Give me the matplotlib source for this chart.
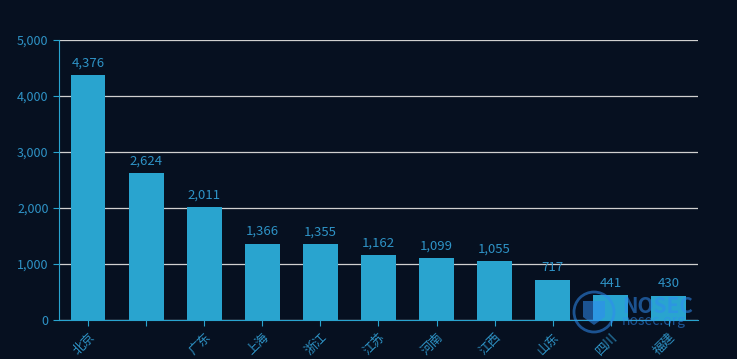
import matplotlib.pyplot as plt
from matplotlib.patches import Circle, Polygon

plt.rcParams['font.family'] = ['Noto Sans CJK SC', 'DejaVu Sans']

provinces = ['北京', '', '广东', '上海', '浙江', '江苏', '河南', '江西', '山东', '四川', '福建']
counts = [4376, 2624, 2011, 1366, 1355, 1162, 1099, 1055, 717, 441, 430]

bg = '#061020'
bar_color = '#29a4cf'
text_color = '#2e93c6'
mark_color = '#2f8cf0'

fig = plt.figure(figsize=(7.37, 3.59), dpi=100, facecolor=bg)
ax = fig.add_axes([0.080, 0.1086, 0.867, 0.78])
ax.set_facecolor(bg)

x = range(len(provinces))
bars = ax.bar(x, counts, width=0.6, color=bar_color, zorder=3)
for xi, v in zip(x, counts):
    ax.text(xi, v + 100, f'{v:,}', ha='center', va='bottom', color=text_color, fontsize=9.5)

ax.set_xlim(-0.5, len(provinces) - 0.5)
ax.set_ylim(0, 5000)
ax.set_yticks(range(0, 5001, 1000))
ax.set_yticklabels([f'{v:,}' for v in range(0, 5001, 1000)])
ax.set_xticks(list(x))
ax.set_xticklabels(provinces, rotation=45, ha='right', rotation_mode='anchor')

ax.yaxis.grid(True, color='#d0d0d0', linewidth=0.9, zorder=0)
for s in ['top', 'right']:
    ax.spines[s].set_visible(False)
for s in ['left', 'bottom']:
    ax.spines[s].set_color(bar_color)
ax.tick_params(axis='both', colors=bar_color, labelcolor=text_color, labelsize=9, length=4)

# watermark (pixel coords, origin bottom-left)
fig.patches.append(Circle((594, 47), 20, transform=None, fill=False,
                          edgecolor=mark_color, linewidth=2, alpha=0.55, zorder=10))
fig.patches.append(Polygon([(583, 58), (605, 58), (605, 42), (594, 34), (583, 42)],
                           closed=True, transform=None, facecolor=mark_color,
                           edgecolor='none', alpha=0.55, zorder=10))
fig.text(622 / 737, 1 - 313 / 359, 'NOSEC', color=mark_color, alpha=0.55,
         fontsize=15, fontweight='bold', va='baseline', zorder=10)
fig.text(622 / 737, 1 - 325 / 359, 'nosec.org', color=mark_color, alpha=0.55,
         fontsize=10, va='baseline', zorder=10)

fig.savefig('out.png', facecolor=bg)
